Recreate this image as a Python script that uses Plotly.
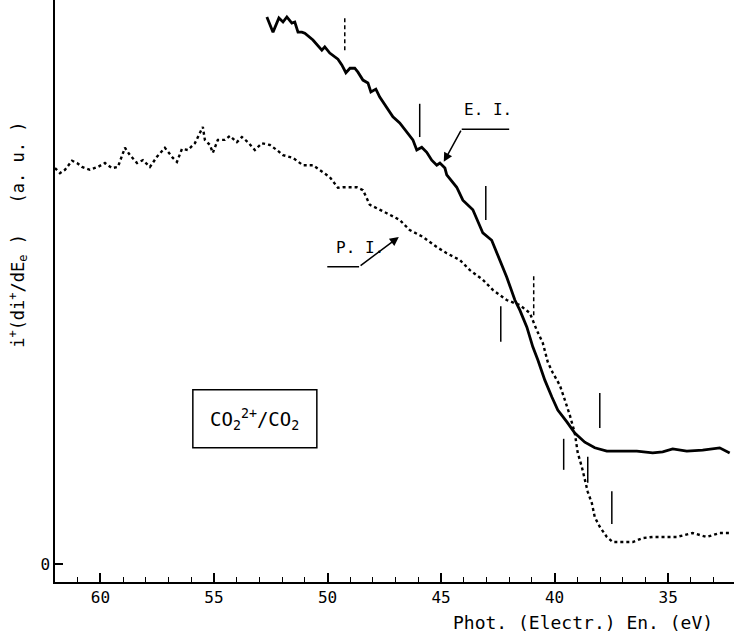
import plotly.graph_objects as go

# ---- data (photon/electron energy in eV, intensity in a.u.) ----
ei_energy = [52.67, 52.40, 52.14, 51.96, 51.79, 51.57, 51.44, 51.30, 51.13, 51.00,
             50.64, 50.25, 50.12, 49.90, 49.54, 49.37, 49.19, 49.01, 48.80, 48.66,
             48.44, 48.22, 48.09, 47.87, 47.70, 47.39, 47.12, 46.82, 46.51, 46.24,
             46.07, 45.85, 45.63, 45.41, 45.19, 45.05, 44.83, 44.75, 44.31, 44.04,
             43.60, 43.16, 42.77, 42.42, 42.11, 41.75, 41.53, 41.22, 40.96, 40.74,
             40.43, 40.12, 39.86, 39.46, 39.11, 38.67, 38.23, 37.70, 37.13, 36.38,
             35.68, 35.24, 34.80, 34.18, 33.48, 32.73, 32.29]
ei_signal = [97.0, 94.3, 96.8, 96.1, 97.0, 95.9, 96.1, 94.3, 94.3, 94.1,
             92.9, 91.1, 91.7, 90.6, 89.5, 88.5, 87.1, 87.9, 87.9, 87.2,
             85.8, 85.3, 83.7, 84.2, 82.8, 81.0, 79.3, 78.2, 76.6, 75.2,
             73.4, 73.9, 73.0, 71.6, 70.7, 71.1, 70.2, 69.0, 66.8, 64.5,
             62.8, 58.7, 57.4, 53.9, 50.9, 46.8, 45.0, 42.0, 38.5, 36.2,
             32.6, 29.6, 27.3, 25.2, 23.2, 21.6, 20.6, 20.0, 20.0, 20.0,
             19.7, 19.9, 20.4, 20.0, 20.2, 20.6, 19.7]

pi_energy = [62.00, 61.78, 61.56, 61.25, 61.03, 60.81, 60.46, 60.11, 59.80, 59.49,
             59.23, 58.92, 58.70, 58.39, 58.13, 57.82, 57.51, 57.16, 56.81, 56.63,
             56.41, 56.15, 55.84, 55.49, 55.40, 55.18, 55.05, 54.83, 54.52, 54.30,
             53.99, 53.77, 53.51, 53.20, 52.89, 52.54, 52.23, 51.96, 51.52, 51.08,
             50.64, 50.20, 49.90, 49.54, 49.32, 48.88, 48.71, 48.44, 48.14, 47.39,
             46.82, 46.38, 45.80, 45.19, 44.75, 44.17, 43.73, 43.16, 42.72, 42.11,
             41.53, 41.09, 40.79, 40.52, 40.30, 40.08, 39.77, 39.55, 39.33, 39.11,
             38.98, 38.80, 38.67, 38.54, 38.36, 38.23, 38.01, 37.70, 37.44, 37.00,
             36.56, 36.12, 35.68, 35.24, 34.62, 33.92, 33.30, 32.73, 32.29]
pi_signal = [70.2, 69.3, 69.9, 71.5, 71.1, 70.4, 69.9, 70.4, 71.1, 70.2,
             70.4, 73.8, 72.5, 71.1, 71.6, 70.4, 72.2, 73.8, 72.0, 71.3,
             73.6, 73.4, 74.6, 77.5, 75.2, 74.3, 72.9, 75.2, 75.2, 75.9,
             74.8, 75.7, 74.8, 73.4, 74.6, 74.3, 73.4, 72.5, 72.0, 70.7,
             70.7, 69.5, 68.6, 66.7, 66.8, 66.8, 66.8, 66.3, 63.7, 62.2,
             61.0, 59.2, 58.0, 56.2, 55.1, 53.9, 52.1, 50.4, 48.6, 46.8,
             45.9, 44.5, 41.5, 39.2, 35.8, 33.9, 31.7, 29.1, 26.4, 23.2,
             19.7, 17.2, 14.9, 12.8, 10.8, 8.3, 6.6, 4.8, 3.9, 3.9,
             3.9, 4.6, 4.8, 4.8, 4.8, 5.5, 4.8, 5.5, 5.5]

# threshold marks: energy, lower and upper intensity, dashed?
mark_energy = [49.24, 45.94, 43.03, 40.92, 42.37, 38.01, 39.60, 38.54, 37.48]
mark_low    = [91.1, 75.7, 61.0, 44.1, 39.4, 24.1, 16.7, 14.4, 7.1]
mark_high   = [97.2, 81.6, 67.0, 51.2, 45.7, 30.3, 22.2, 19.0, 12.9]
mark_dashed = [True, False, False, True, False, False, False, False, False]

x_ticks = [60, 55, 50, 45, 40, 35]
y_ticks = [0]

FONT = "DejaVu Sans Mono"

fig = go.Figure()
fig.add_trace(go.Scatter(x=pi_energy, y=pi_signal, mode="lines",
                         line=dict(color="black", width=2.4, dash="dot"),
                         showlegend=False, hoverinfo="skip"))
fig.add_trace(go.Scatter(x=ei_energy, y=ei_signal, mode="lines",
                         line=dict(color="black", width=2.8),
                         showlegend=False, hoverinfo="skip"))

for e, lo, hi, d in zip(mark_energy, mark_low, mark_high, mark_dashed):
    fig.add_trace(go.Scatter(x=[e, e], y=[lo, hi], mode="lines",
                             line=dict(color="black", width=1.5,
                                       dash="4px,3px" if d else "solid"),
                             showlegend=False, hoverinfo="skip"))

# label leaders
fig.add_shape(type="line", x0=44.09, x1=42.00, y0=77.1, y1=77.1,
              line=dict(color="black", width=1.5))
fig.add_shape(type="line", x0=50.01, x1=48.61, y0=52.7, y1=52.7,
              line=dict(color="black", width=1.5))
fig.add_annotation(x=44.88, y=71.3, ax=44.09, ay=77.1, axref="x", ayref="y",
                   text="", showarrow=True, arrowhead=2, arrowsize=1.2,
                   arrowwidth=1.5, arrowcolor="black")
fig.add_annotation(x=46.86, y=58.0, ax=48.61, ay=52.7, axref="x", ayref="y",
                   text="", showarrow=True, arrowhead=2, arrowsize=1.2,
                   arrowwidth=1.5, arrowcolor="black")
fig.add_annotation(x=42.94, y=80.5, text="E. I.", showarrow=False,
                   font=dict(family=FONT, size=16, color="black"))
fig.add_annotation(x=48.58, y=56.2, text="P. I.", showarrow=False,
                   font=dict(family=FONT, size=16, color="black"))

# species box
fig.add_shape(type="rect", x0=55.93, x1=50.47, y0=20.6, y1=30.9,
              line=dict(color="black", width=1.5))
fig.add_annotation(x=53.20, y=25.7, text="CO<sub>2</sub><sup>2+</sup>/CO<sub>2</sub>",
                   showarrow=False, font=dict(family=FONT, size=19, color="black"))

# axis titles
fig.add_annotation(xref="paper", yref="paper", x=-0.055, y=0.596,
                   text="i<sup>+</sup>(di<sup>+</sup>/dE<sub>e</sub> )   (a. u. )",
                   textangle=-90, showarrow=False, xanchor="center", yanchor="middle",
                   font=dict(family=FONT, size=17, color="black"))
fig.add_annotation(xref="paper", yref="paper", x=0.972, y=-0.07,
                   text="Phot. (Electr.) En. (eV)", showarrow=False,
                   xanchor="right", yanchor="middle",
                   font=dict(family=FONT, size=18, color="black"))

fig.update_xaxes(range=[62, 32.1], tickvals=x_ticks, ticks="inside", ticklen=9,
                 tickwidth=1.5, tickcolor="black", showline=True, linecolor="black",
                 linewidth=2, showgrid=False, zeroline=False,
                 minor=dict(dtick=1, ticks="inside", ticklen=5, tickwidth=1.2,
                            tickcolor="black", showgrid=False),
                 tickfont=dict(family=FONT, size=16, color="black"))
fig.update_yaxes(range=[-3.19, 100], tickvals=y_ticks, ticks="inside", ticklen=8,
                 tickwidth=1.5, tickcolor="black", showline=True, linecolor="black",
                 linewidth=1.5, showgrid=False, zeroline=False,
                 tickfont=dict(family=FONT, size=16, color="black"))

fig.update_layout(width=734, height=637, plot_bgcolor="white", paper_bgcolor="white",
                  margin=dict(l=55, r=0, t=0, b=55), showlegend=False)

fig.write_html("out.html")
